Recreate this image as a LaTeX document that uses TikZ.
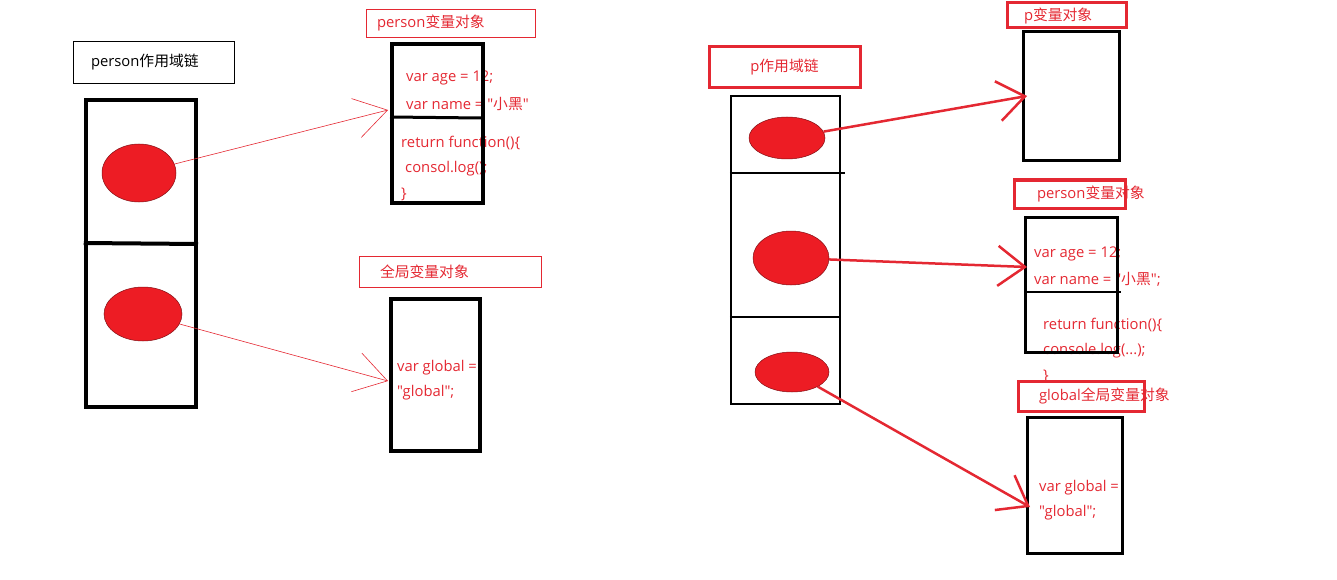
\documentclass[tikz,border=0pt]{standalone}
\usepackage{fontspec}
\setmainfont{Open Sans}[Ligatures=TeXOff]
\newfontfamily\cjk{Noto Sans CJK SC}[Ligatures=TeXOff]
\usetikzlibrary{arrows.meta,shapes.geometric}
\definecolor{paintred}{RGB}{237,28,36}
\definecolor{inkred}{RGB}{228,40,50}
\tikzset{
  chainbox/.style={
    draw=black,
    line width=.8pt,
    align=center,
    inner sep=0pt
  },
  stack/.style={
    draw=black,
    line width=4.5pt,
    inner sep=0pt
  },
  ball/.style={
    ellipse,
    fill=paintred,
    draw=paintred!55!black,
    line width=.5pt,
    inner sep=0pt
  },
  title/.style={
    draw=inkred,
    text=inkred,
    line width=.8pt,
    align=left,
    inner ysep=0pt
  },
  code/.style={
    text=inkred,
    anchor=west,
    inner sep=0pt
  },
  thinarrow/.style={
    -{Straight Barb[length=32pt,width=40pt]},
    inkred,
    line width=.6pt
  },
  fatarrow/.style={
    -{Straight Barb[length=27pt,width=40pt]},
    inkred,
    line width=2.5pt
  }
}

\begin{document}
\begin{tikzpicture}[x=1pt,y=-1pt,font=\fontsize{14.8}{17}\selectfont]
\useasboundingbox (0,0) rectangle (1337,580);

% person scope chain
\node[chainbox, text width=125pt, inner xsep=18pt, align=left, minimum height=42pt] (lchain) at (153.5,62) {person{\cjk 作用域链}};
\node[stack, minimum width=110pt, minimum height=307pt] (lstack) at (141,253.5) {};
\draw[line width=4pt] (lstack.west |- 0,243) -- (198,244);
\node[ball, minimum width=74pt, minimum height=58pt] (lball1) at (139,173) {};
\node[ball, minimum width=78pt, minimum height=54pt] (lball2) at (143,314) {};

\node[title, text width=147pt, inner xsep=11pt, minimum height=28pt] (lpvo) at (450.5,23) {person{\cjk 变量对象}};
\node[code] (la1) at (406,78) {var age = 12;};
\node[code] (la2) at (406,104) {var name = "{\cjk 小黑}"};
\node[code] (la3) at (401,143) {return function()\{};
\node[code] (la4) at (405,169) {consol.log();};
\node[code] (la5) at (401,194) {\}};
\node[stack, minimum width=91pt, minimum height=159pt] (lpbox) at (437.5,123.5) {};
\draw[line width=3pt] (390,117) -- (481,118);

\node[title, text width=140pt, inner xsep=21pt, minimum height=31pt] (lgvo) at (450,271.5) {{\cjk 全局变量对象}};
\node[code] (lg1) at (397,368) {var global =};
\node[code] (lg2) at (397,393) {"global";};
\node[stack, minimum width=89pt, minimum height=152pt] (lgbox) at (435.5,375) {};

\coordinate (lpin) at (388,110);
\coordinate (lgin) at (388,381);
\draw[thinarrow] (lball1) -- (lpin);
\draw[thinarrow] (lball2) -- (lgin);

% p scope chain
\node[title, line width=3pt, align=center, minimum width=151pt, minimum height=41pt] (rchain) at (784.5,67.5) {p{\cjk 作用域链}};
\node[stack, line width=2.5pt, minimum width=109pt, minimum height=308pt] (rstack) at (785.5,250) {};
\draw[line width=2.5pt] (rstack.west |- 0,173) -- (845,173);
\draw[line width=2.5pt] (rstack.west |- 0,317) -- (rstack.east |- 0,317);
\node[ball, minimum width=76pt, minimum height=42pt] (rball1) at (787,138) {};
\node[ball, minimum width=76pt, minimum height=54pt] (rball2) at (791,258) {};
\node[ball, minimum width=74pt, minimum height=40pt] (rball3) at (792,372) {};

\node[title, line width=3pt, text width=85pt, inner xsep=17pt, minimum height=25pt] (rpvo) at (1066.5,15.5) {p{\cjk 变量对象}};
\node[stack, line width=3pt, minimum width=96pt, minimum height=129pt] (rpbox) at (1071,96.5) {};

\node[title, line width=3pt, text width=88pt, inner xsep=11.5pt, minimum height=28pt] (rpersonvo) at (1069.5,194) {\hspace{11.5pt}\rlap{person{\cjk 变量对象}}};
\node[code] (ra1) at (1034,254) {var age = 12;};
\node[code] (ra2) at (1034,279) {var name = "{\cjk 小黑}";};
\node[code] (ra3) at (1043,325) {return function()\{};
\node[code] (ra4) at (1043,351) {console.log(...);};
\node[code] (ra5) at (1043,376) {\}};
\node[stack, line width=3pt, minimum width=92pt, minimum height=135pt] (rpersonbox) at (1071,284.5) {};
\draw[line width=2.5pt] (1027,292) -- (1121,292);

\node[title, line width=3pt, text width=84pt, inner xsep=21pt, minimum height=30pt] (rgvo) at (1081,396) {\rlap{global{\cjk 全局变量对象}}};
\node[code] (rg1) at (1039,488) {var global =};
\node[code] (rg2) at (1039,513) {"global";};
\node[stack, line width=3pt, minimum width=95pt, minimum height=136pt] (rgbox) at (1074.5,485) {};

\coordinate (rpin) at (1027,96);
\coordinate (rpersonin) at (1027,267);
\coordinate (rgin) at (1030,507);
\draw[fatarrow] (rball1) -- (rpin);
\draw[fatarrow] (rball2) -- (rpersonin);
\draw[fatarrow] (rball3) -- (rgin);
\end{tikzpicture}
\end{document}
